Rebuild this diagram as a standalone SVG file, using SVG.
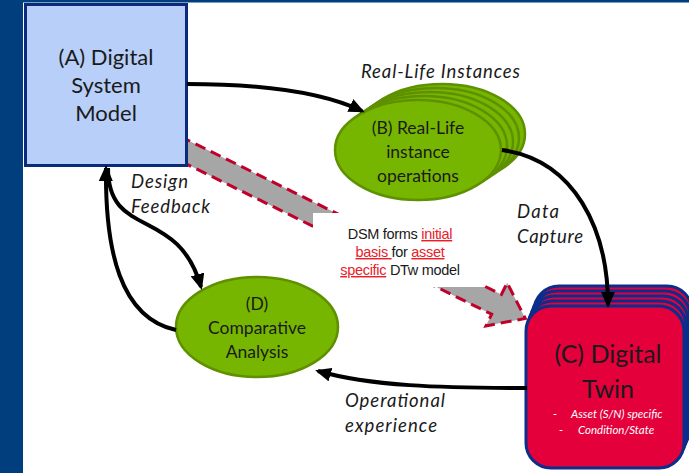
<svg xmlns="http://www.w3.org/2000/svg" width="689" height="473" viewBox="0 0 689 473">
<defs>
<style>
.node{font-family:Lato,"Liberation Sans",sans-serif;fill:#1a1a1a;text-anchor:middle}
.lbl{font-family:Lato,"Liberation Sans",sans-serif;font-style:italic;fill:#1a1a1a;font-size:18.5px}
.conn{fill:none;stroke:#000;stroke-width:4;marker-end:url(#ah)}
.ell{fill:#76b600;stroke:#5e9000;stroke-width:2.5}
.tw{fill:#e4003b;stroke:#0b2d8c;stroke-width:3}
.dsm{font-family:"Liberation Sans",Arial,sans-serif;font-size:14.5px;fill:#1a1a1a;text-anchor:middle;letter-spacing:-0.3px}
.red{fill:#e8202a;text-decoration:underline}
.sm{font-family:Lato,"Liberation Sans",sans-serif;font-style:italic;font-size:11.5px;fill:#fff}
</style>
<marker id="ah" markerWidth="16" markerHeight="14" refX="13" refY="7" orient="auto" markerUnits="userSpaceOnUse"><path d="M0,0 L16,7 L0,14 z" fill="#000"/></marker>
</defs>
<rect width="689" height="473" fill="#fff"/>
<rect x="0" y="0" width="23" height="473" fill="#003e7e"/>
<rect x="0" y="0" width="689" height="2.5" fill="#003e7e"/>

<g id="big-arrow">
<g transform="translate(187,152) rotate(26.2)">
<path d="M-30,-11 L345,-11 L345,-24 L377,0 L345,24 L345,11 L-30,11 Z" fill="#a6a6a6" stroke="#c0002a" stroke-width="3" stroke-dasharray="11,6"/>
</g>
<rect x="313" y="213" width="172" height="74" fill="#fff"/>
</g>

<g id="nodeA">
<rect x="25.5" y="4.5" width="161" height="161" fill="#b7cff9" stroke="#0a2a7c" stroke-width="3"/>
<text class="node" font-size="22" x="106" y="65">(A) Digital</text>
<text class="node" font-size="22" x="106" y="93">System</text>
<text class="node" font-size="22" x="106" y="121">Model</text>
</g>

<g id="nodeB">
<ellipse class="ell" cx="442" cy="134" rx="83" ry="50"/>
<ellipse class="ell" cx="436" cy="138" rx="83" ry="50"/>
<ellipse class="ell" cx="430" cy="142" rx="83" ry="50"/>
<ellipse class="ell" cx="424" cy="146" rx="83" ry="50"/>
<ellipse class="ell" cx="418" cy="150" rx="83" ry="50"/>
<text class="node" font-size="17.5" x="418" y="134">(B) Real-Life</text>
<text class="node" font-size="17.5" x="418" y="158">instance</text>
<text class="node" font-size="17.5" x="418" y="182">operations</text>
</g>

<g id="nodeC">
<rect class="tw" x="534" y="286" width="158" height="162" rx="25"/>
<rect class="tw" x="532" y="291" width="158" height="162" rx="25"/>
<rect class="tw" x="530" y="296" width="158" height="162" rx="25"/>
<rect class="tw" x="528" y="301" width="158" height="162" rx="25"/>
<rect class="tw" x="526" y="306" width="158" height="162" rx="25"/>
<text class="node" font-size="25" x="608" y="363">(C) Digital</text>
<text class="node" font-size="25" x="608" y="398">Twin</text>
<text class="sm" x="553" y="418">-</text>
<text class="sm" x="571" y="418">Asset (S/N) specific</text>
<text class="sm" x="559" y="434">-</text>
<text class="sm" x="578" y="434">Condition/State</text>
</g>

<g id="nodeD">
<ellipse class="ell" cx="257" cy="327" rx="81" ry="50"/>
<text class="node" font-size="17.5" x="257" y="310">(D)</text>
<text class="node" font-size="17.5" x="257" y="334">Comparative</text>
<text class="node" font-size="17.5" x="257" y="358">Analysis</text>
</g>

<g id="connectors">
<path class="conn" d="M187,84 C262,84 322,92 362,111"/>
<path class="conn" d="M502,150 C575,160 608,230 608,305"/>
<path class="conn" d="M527,388 C440,388 370,386 318,371"/>
<path class="conn" d="M108,168 C108,240 178,205 201,287"/>
<path class="conn" d="M176,330 C120,318 105,250 106,168"/>
</g>

<g id="labels">
<text class="lbl" x="361" y="78" textLength="159">Real-Life Instances</text>
<text class="lbl" x="517" y="218" textLength="42">Data</text>
<text class="lbl" x="517" y="243" textLength="66">Capture</text>
<text class="lbl" x="131" y="188" textLength="57">Design</text>
<text class="lbl" x="131" y="213" textLength="79">Feedback</text>
<text class="lbl" x="345" y="407" textLength="100">Operational</text>
<text class="lbl" x="345" y="432" textLength="92">experience</text>
<text class="dsm" x="400" y="239">DSM forms <tspan class="red">initial</tspan></text>
<text class="dsm" x="400" y="257"><tspan class="red">basis </tspan>for <tspan class="red">asset</tspan></text>
<text class="dsm" x="400" y="275"><tspan class="red">specific</tspan> DTw model</text>
</g>
</svg>
